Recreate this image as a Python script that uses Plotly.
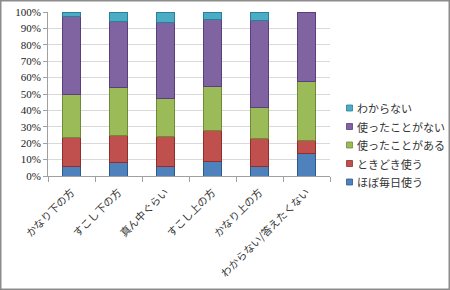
import plotly.graph_objects as go

categories = ["かなり下の方", "すこし下の方", "真ん中ぐらい", "すこし上の方", "かなり上の方", "わからない/答えたくない"]
series_names = ["ほぼ毎日使う", "ときどき使う", "使ったことがある", "使ったことがない", "わからない"]
daily = [6, 8, 6, 9, 6, 14]
sometimes = [17.5, 16.5, 18, 19, 17, 7.5]
used = [26.5, 29.5, 23.5, 26.5, 19, 36]
never = [47.5, 40.5, 46, 41, 53, 42.5]
unknown = [2.5, 5.5, 6.5, 4.5, 5, 0]
colors = ["#4F81BD", "#C0504D", "#9BBB59", "#8064A2", "#4BACC6"]
edge_colors = ["#2C5A8F", "#8E2F2C", "#6E8B36", "#5A3F7E", "#2A8099"]
y_ticks = [0, 10, 20, 30, 40, 50, 60, 70, 80, 90, 100]

W, H = 450, 290
L, R, T, B = 48, 120, 12, 114
PW, PH = W - L - R, H - T - B

def px_x(px):
    return (px - L) / PW

def px_y(py):
    return (H - B - py) / PH

fig = go.Figure()
for name, vals, c, ec in zip(series_names, [daily, sometimes, used, never, unknown], colors, edge_colors):
    fig.add_trace(go.Bar(x=categories, y=vals, name=name,
                         marker=dict(color=c, line=dict(color=ec, width=[1 if v > 0 else 0 for v in vals]))))

fig.update_layout(
    barmode="stack",
    bargap=0.62,
    width=W, height=H,
    margin=dict(l=L, r=R, t=T, b=B, autoexpand=False),
    paper_bgcolor="white", plot_bgcolor="white",
    showlegend=False,
    xaxis=dict(tickangle=-45, tickfont=dict(family="Noto Sans CJK JP", size=10.5, color="#333"),
               showline=True, linecolor="#A0A0A0", ticks="outside", tickson="boundaries",
               ticklen=5, tickcolor="#A0A0A0", showgrid=False, ticklabelstandoff=5),
    yaxis=dict(range=[0, 100], tickvals=y_ticks, ticktext=[f"{v}%" for v in y_ticks],
               tickfont=dict(family="Liberation Serif", size=11, color="#222"),
               showgrid=True, gridcolor="#D9D9D9", showline=True, linecolor="#A0A0A0",
               ticks="outside", ticklen=4, tickcolor="#A0A0A0", zeroline=False),
)

# legend drawn as text rows (top row = last series)
row_y = [182, 163.5, 145, 126.5, 108]
for name, c, ec, py in zip(series_names, colors, edge_colors, row_y):
    fig.add_shape(type="rect", xref="paper", yref="paper",
                  x0=px_x(346.5), x1=px_x(352.5), y0=px_y(py + 3), y1=px_y(py - 3),
                  fillcolor=c, line=dict(color=ec, width=0.8))
    fig.add_annotation(xref="paper", yref="paper", x=px_x(355), y=px_y(py),
                       xanchor="left", yanchor="middle", showarrow=False, text=name,
                       font=dict(family="Noto Sans CJK JP", size=11, color="#333"))

fig.add_shape(type="rect", xref="paper", yref="paper",
              x0=px_x(0.75), x1=px_x(449.25), y0=px_y(289.25), y1=px_y(0.75),
              line=dict(color="#8C8C8C", width=1.5), fillcolor="rgba(0,0,0,0)")
fig.write_html("out.html")
